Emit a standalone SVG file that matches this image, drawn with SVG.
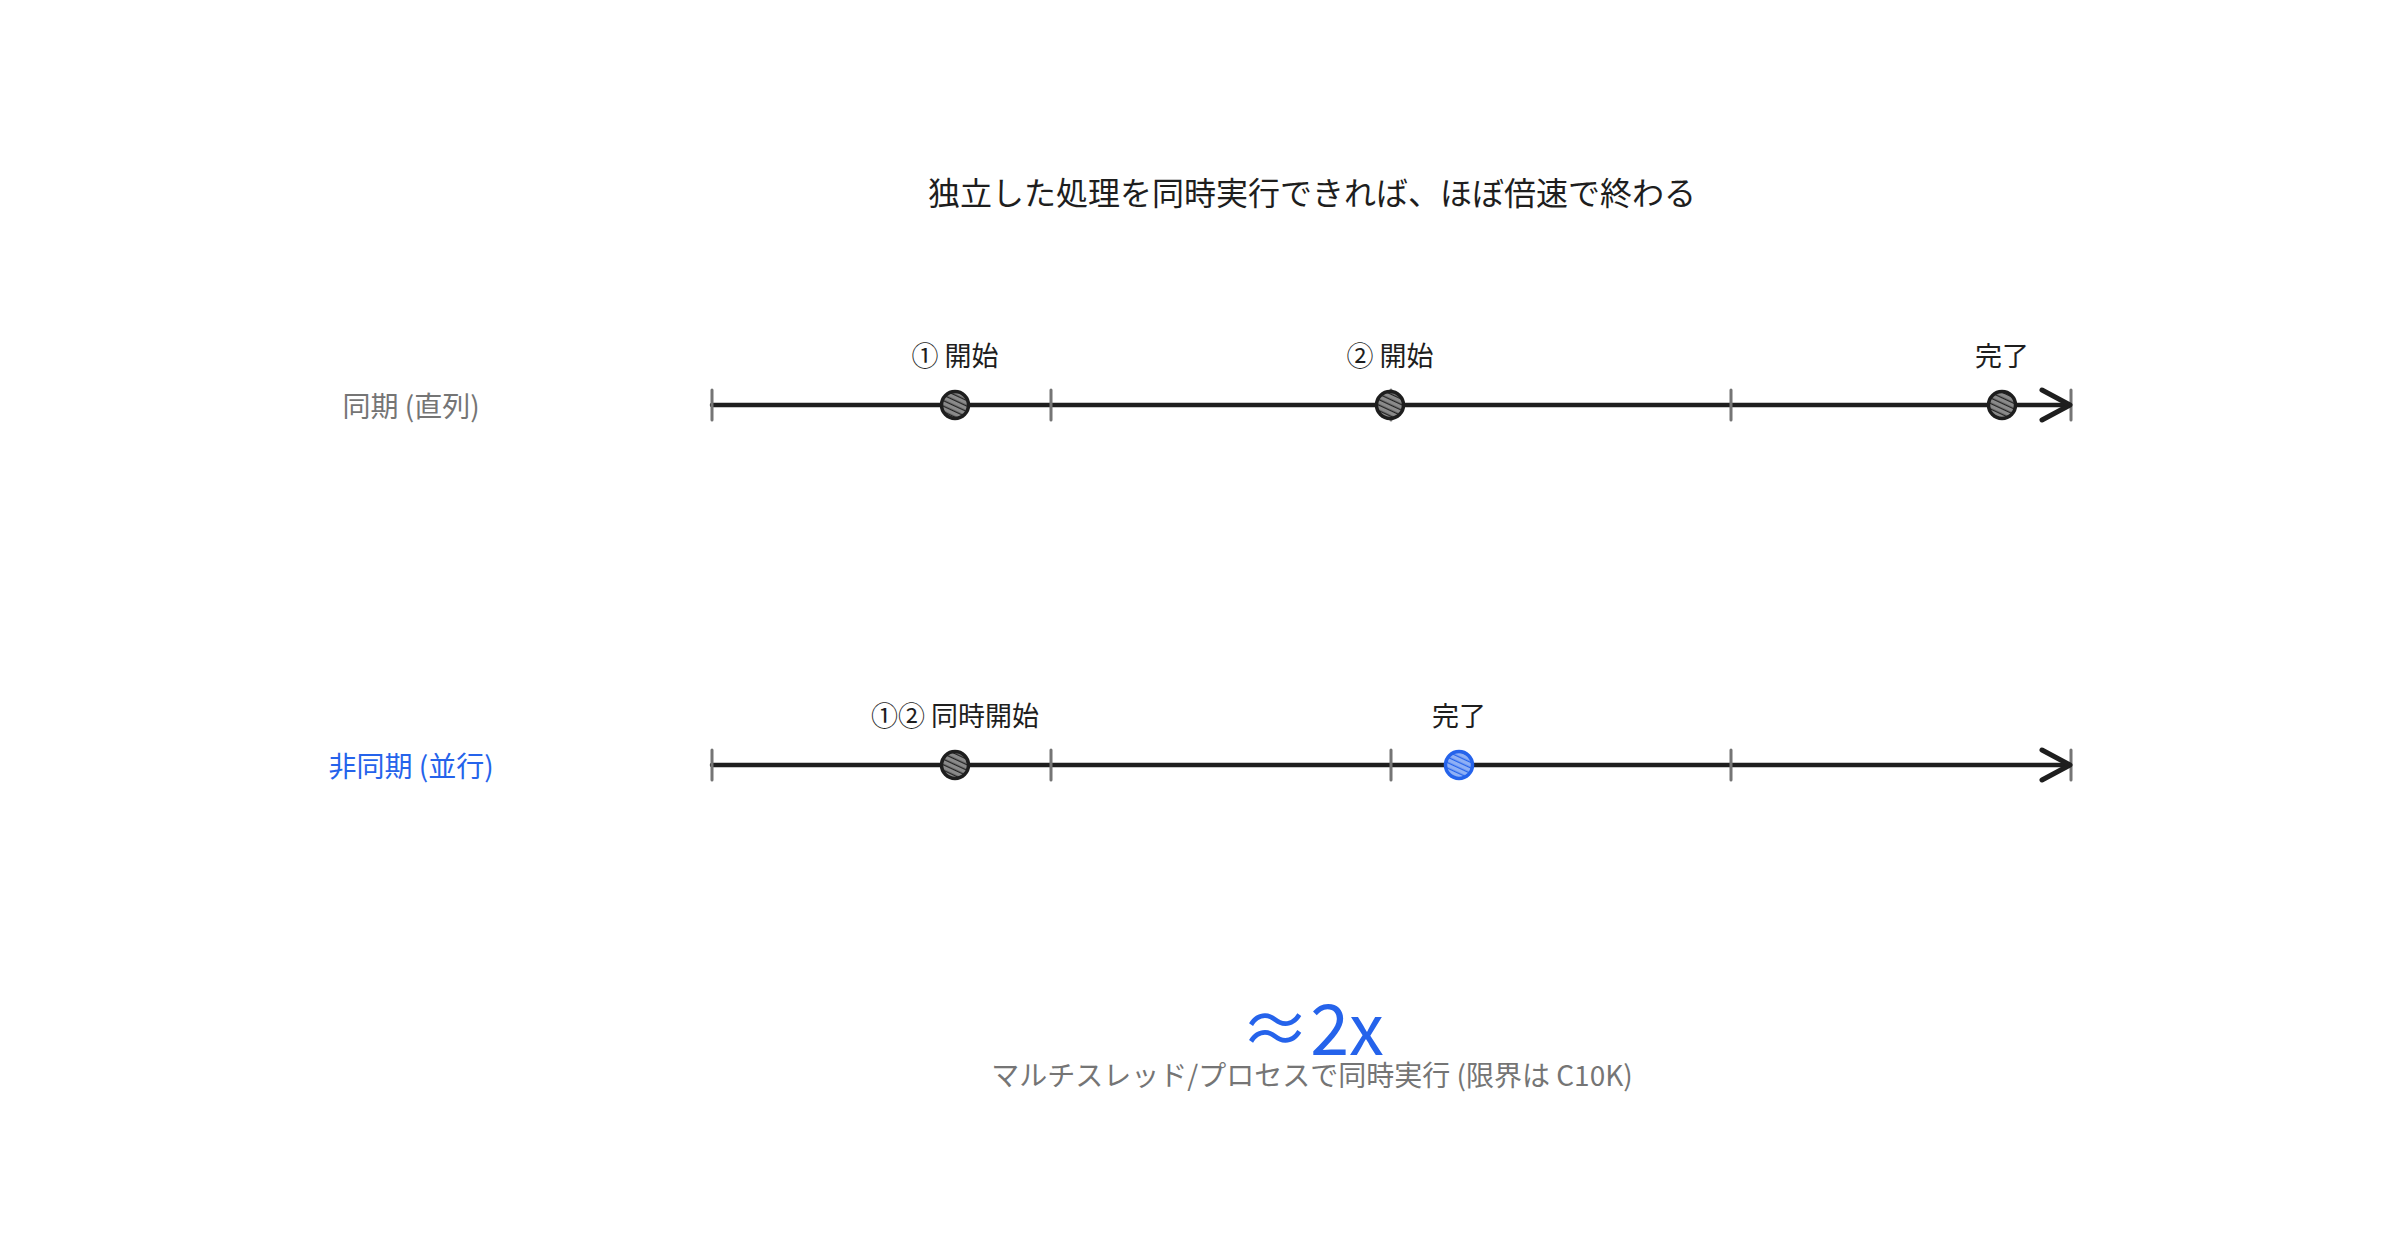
<svg xmlns="http://www.w3.org/2000/svg" width="2400" height="1260" viewBox="0 0 2400 1260">
<defs>
<style>
.title{font-family:"Noto Sans CJK JP","Noto Sans",sans-serif;font-size:32px;fill:#1e1e1e;text-anchor:middle;dominant-baseline:central}
.lbl{font-family:"Noto Sans CJK JP","Noto Sans",sans-serif;font-size:27px;fill:#1e1e1e;text-anchor:middle;dominant-baseline:central}
.row{font-family:"Noto Sans CJK JP","Noto Sans",sans-serif;font-size:28px;text-anchor:middle;dominant-baseline:central}
.gray{fill:#757575}
.blue{fill:#2563eb}
.axis{stroke:#1e1e1e;stroke-width:4.5;stroke-linecap:round;fill:none}
.tick{stroke:#757575;stroke-width:3;stroke-linecap:round}
.arrow{stroke:#1e1e1e;stroke-width:5;stroke-linecap:round;stroke-linejoin:round;fill:none}
.dot{fill:url(#hDark);stroke:#1e1e1e;stroke-width:3.5}
.dotb{fill:url(#hBlue);stroke:#2563eb;stroke-width:3.5}
</style>
<pattern id="hDark" patternUnits="userSpaceOnUse" width="5" height="5" patternTransform="rotate(-65)">
<rect width="5" height="5" fill="#8a8a8a"/>
<line x1="0" y1="0" x2="0" y2="5" stroke="#222222" stroke-width="2.6"/>
</pattern>
<pattern id="hBlue" patternUnits="userSpaceOnUse" width="5" height="5" patternTransform="rotate(-65)">
<rect width="5" height="5" fill="#8fb0f5"/>
<line x1="0" y1="0" x2="0" y2="5" stroke="#2563eb" stroke-width="2.6"/>
</pattern>
</defs>
<rect width="2400" height="1260" fill="#ffffff"/>

<g id="title"><text class="title" x="1312" y="191">独立した処理を同時実行できれば、ほぼ倍速で終わる</text></g>

<g id="row-sync-label"><text class="row gray" x="411" y="405">同期 (直列)</text></g>
<g id="row-async-label"><text class="row blue" x="411" y="765">非同期 (並行)</text></g>

<g id="connectors">
<line class="axis" x1="712" y1="405" x2="2069" y2="405"/>
<line class="tick" x1="712" y1="390" x2="712" y2="420"/>
<line class="tick" x1="1051" y1="390" x2="1051" y2="420"/>
<line class="tick" x1="1391" y1="390" x2="1391" y2="420"/>
<line class="tick" x1="1731" y1="390" x2="1731" y2="420"/>
<line class="tick" x1="2071" y1="390" x2="2071" y2="420"/>
<polyline class="arrow" points="2042,390 2070,405 2042,420"/>

<line class="axis" x1="712" y1="765" x2="2069" y2="765"/>
<line class="tick" x1="712" y1="750" x2="712" y2="780"/>
<line class="tick" x1="1051" y1="750" x2="1051" y2="780"/>
<line class="tick" x1="1391" y1="750" x2="1391" y2="780"/>
<line class="tick" x1="1731" y1="750" x2="1731" y2="780"/>
<line class="tick" x1="2071" y1="750" x2="2071" y2="780"/>
<polyline class="arrow" points="2042,750 2070,765 2042,780"/>
</g>

<g id="sync-start1"><circle class="dot" cx="955" cy="405" r="13.5"/><text class="lbl" x="955" y="354">① 開始</text></g>
<g id="sync-start2"><circle class="dot" cx="1390" cy="405" r="13.5"/><text class="lbl" x="1390" y="354">② 開始</text></g>
<g id="sync-done"><circle class="dot" cx="2002" cy="405" r="13.5"/><text class="lbl" x="2002" y="354">完了</text></g>

<g id="async-start"><circle class="dot" cx="955" cy="765" r="13.5"/><text class="lbl" x="955" y="714">①② 同時開始</text></g>
<g id="async-done"><circle class="dotb" cx="1459" cy="765" r="13.5"/><text class="lbl" x="1459" y="714">完了</text></g>

<g id="summary">
<text x="1312" y="1024" font-family="'Noto Sans CJK JP','Noto Sans',sans-serif" font-size="70" fill="#2563eb" text-anchor="middle" dominant-baseline="central">≈2x</text>
<text class="row gray" x="1312" y="1074">マルチスレッド/プロセスで同時実行 (限界は C10K)</text>
</g>
</svg>
